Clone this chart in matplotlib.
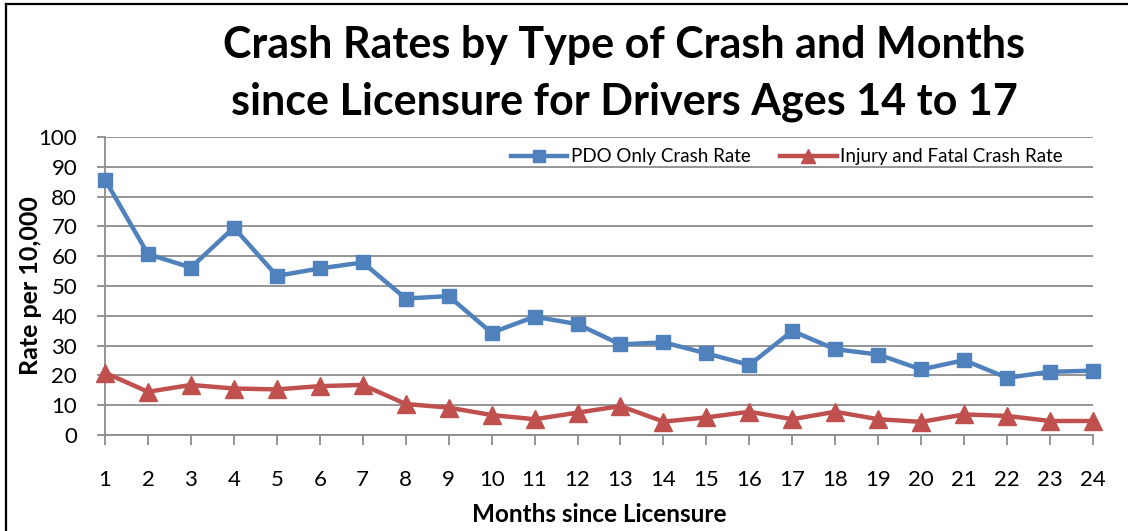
import numpy as np
import matplotlib.pyplot as plt
from matplotlib.lines import Line2D

# data
months = list(range(1, 25))
pdo_rate = [85.7, 60.7, 56.2, 69.6, 53.4, 55.9, 57.9, 45.8, 46.6, 34.3, 39.7, 37.2,
            30.4, 31.1, 27.4, 23.5, 34.9, 28.8, 27.0, 22.0, 25.1, 19.2, 21.2, 21.6]
injury_rate = [20.9, 14.5, 16.8, 15.6, 15.3, 16.4, 16.8, 10.4, 9.2, 6.7, 5.3, 7.5,
               9.7, 4.5, 5.9, 7.8, 5.3, 7.8, 5.3, 4.4, 6.9, 6.4, 4.7, 4.7]
y_ticks = list(range(0, 101, 10))

blue = '#4F81BD'
red = '#C0504D'
grid_col = '#8C8C8C'
font = 'Lato'

fig = plt.figure(figsize=(11.28, 5.31), dpi=100)
W, H = 1128, 531

# outer border (only top and left edges fall inside the image)
fig.add_artist(Line2D([6/W, 6/W], [0, 1 - 4/H], color='black', lw=1.6))
fig.add_artist(Line2D([6/W, 1], [1 - 4/H, 1 - 4/H], color='black', lw=1.6))

ax = fig.add_axes([105/W, 1 - 435/H, (1093 - 105)/W, (435 - 137)/H])
ax.set_xlim(1, 24)
ax.set_ylim(0, 100)
ax.set_yticks(y_ticks)
ax.set_xticks(months)
ax.grid(axis='y', color=grid_col, lw=1.3)
ax.set_axisbelow(True)
for s in ['top', 'right']:
    ax.spines[s].set_visible(False)
for s in ['left', 'bottom']:
    ax.spines[s].set_color(grid_col)
    ax.spines[s].set_linewidth(1.3)
ax.tick_params(axis='y', length=6, width=1.3, color=grid_col, pad=14,
               labelsize=16)
ax.tick_params(axis='x', length=7, width=1.3, color=grid_col, pad=18,
               labelsize=16)
for lab in ax.get_xticklabels() + ax.get_yticklabels():
    lab.set_fontfamily(font)

ax.plot(months, pdo_rate, color=blue, lw=3.2, marker='s', ms=10,
        label='PDO Only Crash Rate', clip_on=False, zorder=3)
ax.plot(months, injury_rate, color=red, lw=3.2, marker='^', ms=13,
        label='Injury and Fatal Crash Rate', clip_on=False, zorder=3)

ax.legend(loc='center', bbox_to_anchor=(0.69, 0.933), ncol=2, frameon=False,
          prop={'family': font, 'size': 13.5}, handlelength=3.0,
          handletextpad=0.2, columnspacing=1.6, borderaxespad=0, markerscale=0.8)

ax.set_xlabel('Months since Licensure', fontfamily=font, fontweight='bold',
              fontsize=17.5)
ax.xaxis.set_label_coords(0.5, -0.228)
ax.set_ylabel('Rate per 10,000', fontfamily=font, fontweight='bold',
              fontsize=18)
ax.yaxis.set_label_coords(-0.064, 0.5)

fig.text(624/W, 1 - 45/H, 'Crash Rates by Type of Crash and Months',
         ha='center', va='center', fontfamily=font, fontweight='bold',
         fontsize=31)
fig.text(624/W, 1 - 102/H, 'since Licensure for Drivers Ages 14 to 17',
         ha='center', va='center', fontfamily=font, fontweight='bold',
         fontsize=31)

fig.savefig('out.png', dpi=100)
